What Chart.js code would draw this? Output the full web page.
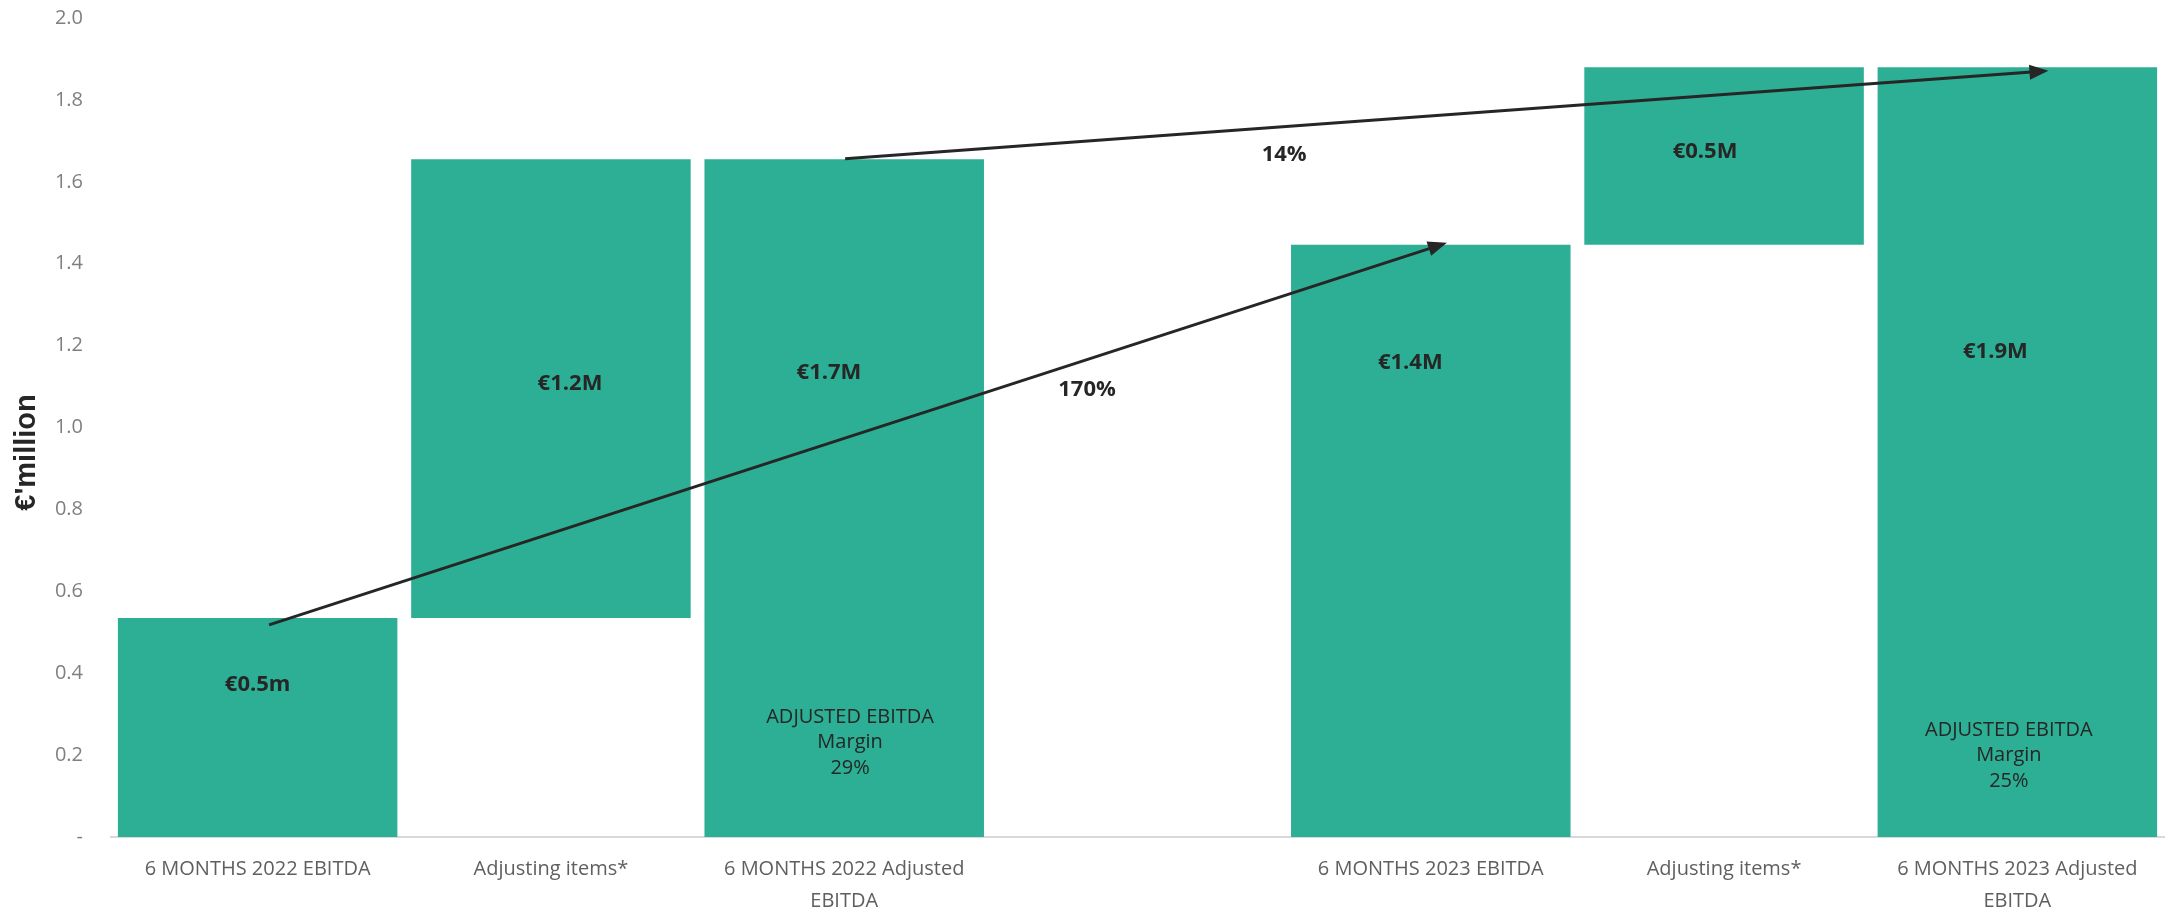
<!DOCTYPE html>
<html>
<head>
<meta charset="utf-8">
<script src="https://cdn.jsdelivr.net/npm/chart.js@4/dist/chart.umd.min.js"></script>
<style>
  html, body { margin: 0; padding: 0; background: #ffffff; }
  #wrap { width: 2170px; height: 911px; position: relative; }
</style>
</head>
<body>
<div id="wrap"><canvas id="c" width="2170" height="911"></canvas></div>
<script>
// ---- data ----
const categories = [
  '6 MONTHS 2022 EBITDA',
  'Adjusting items*',
  ['6 MONTHS 2022 Adjusted', 'EBITDA'],
  '',
  '6 MONTHS 2023 EBITDA',
  'Adjusting items*',
  ['6 MONTHS 2023 Adjusted', 'EBITDA']
];
const barStart = [0, 0.535, 0, null, 0, 1.446, 0];
const barEnd   = [0.535, 1.655, 1.655, null, 1.446, 1.880, 1.880];
const yTicks = [0, 0.2, 0.4, 0.6, 0.8, 1.0, 1.2, 1.4, 1.6, 1.8, 2.0];
const yAxisTitle = "€'million";

// value labels: [text, category position, value]
const valueLabels = [
  ['€0.5m', 0.0, 0.371],
  ['€1.2M', 1.065, 1.106],
  ['€1.7M', 1.948, 1.133],
  ['170%', 2.828, 1.092],
  ['14%', 3.5, 1.665],
  ['€1.4M', 3.93, 1.158],
  ['€0.5M', 4.935, 1.673],
  ['€1.9M', 5.925, 1.186]
];
// margin notes: [lines, category position, value of first line]
const marginNotes = [
  [['ADJUSTED EBITDA', 'Margin', '29%'], 2.02, 0.293],
  [['ADJUSTED EBITDA', 'Margin', '25%'], 5.971, 0.261]
];
// growth arrows: [fromCat, fromValue, toCat, toValue]
const arrows = [
  [0.039, 0.518, 4.055, 1.451],
  [2.003, 1.656, 6.106, 1.871]
];

const floatData = barStart.map((s, i) => (s === null ? null : [s, barEnd[i]]));

const annotate = {
  id: 'annotate',
  afterDatasetsDraw(chart) {
    const ctx = chart.ctx;
    const xs = chart.scales.x, ys = chart.scales.y;
    ctx.save();
    // arrows
    ctx.strokeStyle = '#262626';
    ctx.fillStyle = '#262626';
    ctx.lineWidth = 3;
    arrows.forEach(a => {
      const x1 = xs.getPixelForValue(a[0]), y1 = ys.getPixelForValue(a[1]);
      const x2 = xs.getPixelForValue(a[2]), y2 = ys.getPixelForValue(a[3]);
      const ang = Math.atan2(y2 - y1, x2 - x1);
      const hl = 19, hw = 7.5;
      const bx = x2 - hl * Math.cos(ang), by = y2 - hl * Math.sin(ang);
      ctx.beginPath();
      ctx.moveTo(x1, y1);
      ctx.lineTo(bx + 2 * Math.cos(ang), by + 2 * Math.sin(ang));
      ctx.stroke();
      ctx.beginPath();
      ctx.moveTo(x2, y2);
      ctx.lineTo(bx + hw * Math.sin(ang), by - hw * Math.cos(ang));
      ctx.lineTo(bx - hw * Math.sin(ang), by + hw * Math.cos(ang));
      ctx.closePath();
      ctx.fill();
    });
    // value labels
    ctx.textAlign = 'center';
    ctx.textBaseline = 'middle';
    ctx.font = 'bold 22px "Open Sans"';
    valueLabels.forEach(l => {
      ctx.fillText(l[0], xs.getPixelForValue(l[1]), ys.getPixelForValue(l[2]));
    });
    // margin notes
    ctx.font = '20px "Open Sans"';
    marginNotes.forEach(n => {
      const x = xs.getPixelForValue(n[1]);
      const y0 = ys.getPixelForValue(n[2]);
      n[0].forEach((t, i) => ctx.fillText(t, x, y0 + i * 25.5));
    });
    // y axis title
    ctx.font = 'bold 29px "Liberation Sans Narrow", "Liberation Sans"';
    ctx.translate(27, (ys.top + ys.bottom) / 2 + 25);
    ctx.rotate(-Math.PI / 2);
    ctx.fillText(yAxisTitle, 0, 0);
    ctx.restore();
  }
};

new Chart(document.getElementById('c'), {
  type: 'bar',
  data: {
    labels: categories,
    datasets: [{
      data: floatData,
      backgroundColor: '#2caf94',
      borderWidth: 0,
      barPercentage: 1.0,
      categoryPercentage: 0.953,
      borderSkipped: false
    }]
  },
  options: {
    responsive: false,
    animation: false,
    layout: { padding: { top: 18, right: 6, left: 0, bottom: 0 } },
    plugins: { legend: { display: false }, tooltip: { enabled: false } },
    scales: {
      x: {
        grid: { display: false, drawTicks: false },
        border: { display: true, color: '#d9d9d9', width: 2 },
        ticks: {
          color: '#5f5f5f',
          font: { family: 'Open Sans', size: 20, lineHeight: 1.6 },
          padding: 16,
          maxRotation: 0,
          autoSkip: false
        },
        afterFit(s) { s.height = 74; s.paddingLeft = 0; s.paddingRight = 0; }
      },
      y: {
        min: 0,
        max: 2,
        grid: { display: false, drawTicks: false },
        border: { display: false },
        afterBuildTicks(s) { s.ticks = yTicks.map(v => ({ value: v })); },
        ticks: {
          color: '#7f7f7f',
          font: { family: 'Open Sans', size: 20 },
          padding: 28,
          callback: v => (v === 0 ? '-' : Number(v).toFixed(1))
        },
        afterFit(s) { s.width = 111; s.paddingTop = 0; s.paddingBottom = 0; }
      }
    }
  },
  plugins: [annotate]
});
</script>
</body>
</html>
